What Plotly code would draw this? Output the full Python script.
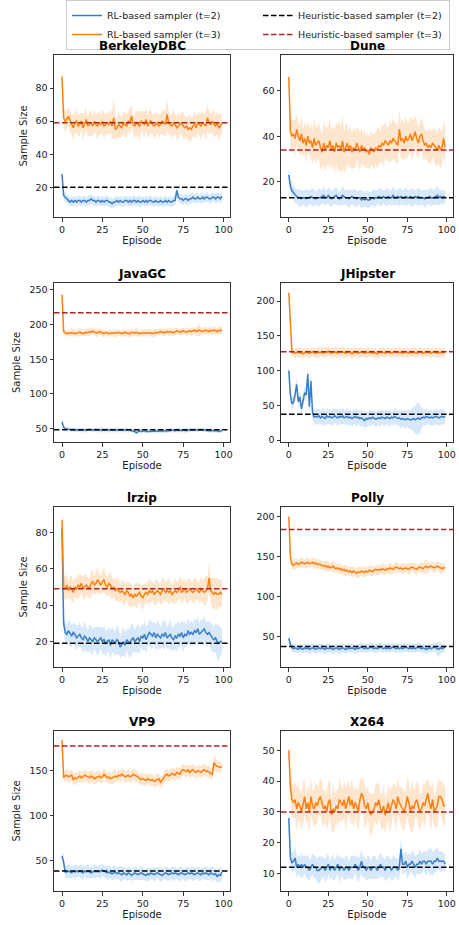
import plotly.graph_objects as go
from plotly.subplots import make_subplots

episodes = list(range(100))
panel_names = ["BerkeleyDBC", "Dune", "JavaGC", "JHipster", "lrzip", "Polly", "VP9", "X264"]
heuristic_t2 = [20, 13, 48.5, 37, 19, 37.5, 38, 12]
heuristic_t3 = [59, 34, 217, 127, 49, 184, 177.5, 30]

# ---------------- BerkeleyDBC ----------------
bdb_t2 = [28, 15, 14, 13, 12, 11, 12, 11, 12, 11,
          12, 12, 11, 12, 12, 11, 12, 12, 13, 12,
          12, 11, 12, 12, 11, 12, 11, 12, 12, 11,
          11, 10, 11, 11, 12, 11, 12, 11, 11, 12,
          12, 11, 12, 11, 12, 12, 11, 12, 11, 11,
          12, 11, 12, 11, 12, 12, 11, 11, 12, 11,
          11, 12, 11, 11, 12, 11, 12, 11, 11, 12,
          12, 18, 14, 13, 13, 12, 13, 13, 12, 13,
          13, 14, 13, 13, 14, 13, 13, 14, 13, 14,
          14, 13, 13, 14, 14, 13, 14, 14, 13, 14.5]
bdb_t2_hw = [3, 2, 3, 2.5, 3, 2.5, 3, 3, 2.5, 3,
             2.5, 3, 3, 2.5, 3, 3, 2.5, 3, 3, 2.5,
             3, 2.5, 3, 3, 2.5, 3, 2.5, 3, 3, 2.5,
             3, 3, 2.5, 3, 3, 2.5, 3, 2.5, 3, 3,
             2.5, 3, 3, 2.5, 3, 3, 2.5, 3, 3.5, 3,
             2.5, 3, 3, 2.5, 3, 3, 2.5, 3, 3, 2.5,
             3, 3, 2.5, 3, 3, 2.5, 3, 3, 2.5, 3,
             3, 4, 3, 2.5, 3, 3, 2.5, 3, 3, 2.5,
             3, 3, 2.5, 3, 3, 2.5, 3, 3, 2.5, 3,
             3, 2.5, 3, 3, 2.5, 3, 3, 2.5, 3, 3]
bdb_t3 = [87, 62, 60, 61, 63, 60, 58, 56, 59, 60,
          57, 58, 60, 56, 59, 61, 57, 58, 59, 57,
          60, 58, 57, 59, 58, 60, 57, 58, 59, 58,
          60, 57, 62, 55, 56, 58, 57, 56, 59, 58,
          57, 60, 59, 63, 58, 57, 59, 58, 57, 60,
          59, 58, 61, 57, 59, 60, 58, 57, 58, 59,
          57, 58, 60, 59, 58, 64, 59, 58, 57, 59,
          58, 56, 57, 58, 59, 57, 56, 57, 55, 56,
          55, 57, 58, 56, 59, 58, 57, 59, 58, 57,
          62, 59, 58, 60, 58, 57, 59, 56, 57, 59]
bdb_t3_hw = [7, 6, 7, 5, 6, 7, 6, 8, 6, 7,
             6, 7, 5, 8, 6, 7, 6, 7, 8, 6,
             7, 6, 8, 7, 6, 7, 8, 6, 7, 6,
             7, 8, 12, 7, 6, 8, 7, 6, 7, 8,
             7, 6, 8, 7, 6, 7, 8, 7, 9, 6,
             7, 8, 6, 7, 8, 7, 6, 8, 7, 6,
             7, 6, 8, 7, 8, 9, 7, 6, 7, 8,
             6, 7, 8, 6, 7, 8, 7, 6, 7, 8,
             7, 6, 8, 7, 6, 7, 8, 7, 6, 9,
             8, 7, 6, 7, 8, 6, 7, 8, 7, 6]

# ---------------- Dune ----------------
dune_t2 = [23, 18, 16, 15, 14, 13.5, 13, 13, 12.5, 13,
           13, 12.5, 13, 13, 13.5, 13, 13, 12.5, 13, 13,
           13, 13.5, 14, 13, 13, 14, 13, 12.5, 13, 13.5,
           14, 13, 12.5, 13, 14, 13.5, 13, 13, 12.5, 13,
           13.5, 13, 13, 12.5, 13, 13, 12, 12.5, 12, 12.5,
           12, 12, 12.5, 13, 12.5, 13, 13, 13.5, 13, 13,
           13.5, 13, 13, 13.5, 13, 13, 14, 13, 13, 13.5,
           13, 13.5, 13, 13, 13.5, 13, 13, 13.5, 13, 13,
           13.5, 13, 13.5, 13, 13, 13, 12.5, 13, 13, 13.5,
           13, 13, 13, 13.5, 14, 13, 13.5, 13, 13.5, 13]
dune_t2_hw = [3, 3, 3.5, 3, 3.5, 3, 3.5, 4, 3.5, 3,
              3.5, 4, 3.5, 3, 3.5, 4, 3.5, 3, 3.5, 4,
              3.5, 3, 4, 3.5, 3, 3.5, 4, 3.5, 3, 3.5,
              4, 3.5, 3, 3.5, 4, 3.5, 3, 3.5, 4, 3.5,
              3, 3.5, 4, 3.5, 3, 3.5, 4, 3.5, 3, 3.5,
              4, 3.5, 3, 3.5, 4, 3.5, 3, 3.5, 4, 3.5,
              3, 3.5, 4, 3.5, 3, 3.5, 4, 3.5, 3, 3.5,
              4, 3.5, 3, 3.5, 4, 3.5, 3, 3.5, 4, 3.5,
              3, 3.5, 4, 3.5, 3, 3.5, 4, 3.5, 3, 3.5,
              4, 3.5, 3, 3.5, 4, 3.5, 3, 3.5, 3, 3]
dune_t3 = [66, 42, 40, 41, 39, 43, 40, 38, 41, 37,
           39, 36, 40, 37, 38, 35, 39, 36, 37, 38,
           35, 33, 37, 34, 36, 35, 38, 34, 36, 33,
           37, 35, 36, 34, 38, 33, 35, 37, 34, 36,
           33, 35, 34, 37, 35, 33, 36, 34, 35, 33,
           34, 32, 35, 34, 33, 35, 34, 36, 35, 37,
           36, 38, 37, 36, 38, 37, 39, 38, 37, 36,
           43, 38, 39, 37, 40, 38, 39, 41, 38, 40,
           42, 39, 37, 40, 41, 38, 36, 37, 35, 36,
           35, 37, 36, 35, 34, 36, 34, 35, 39, 35]
dune_t3_hw = [5, 6, 7, 6, 8, 7, 6, 7, 8, 6,
              7, 8, 7, 6, 8, 7, 9, 8, 7, 8,
              9, 8, 9, 10, 8, 9, 10, 9, 8, 10,
              9, 10, 11, 10, 12, 9, 10, 9, 8, 9,
              8, 9, 8, 7, 8, 9, 8, 7, 8, 7,
              8, 7, 8, 7, 8, 7, 9, 8, 7, 8,
              9, 8, 7, 8, 9, 8, 9, 8, 9, 8,
              9, 8, 9, 8, 9, 8, 7, 8, 9, 8,
              7, 8, 7, 6, 7, 8, 7, 6, 7, 8,
              7, 6, 7, 8, 7, 8, 9, 7, 8, 9]

# ---------------- JavaGC ----------------
jgc_t2 = [60, 52, 50, 50, 49, 49, 48, 49, 48, 48,
          48, 47, 48, 48, 47, 48, 48, 49, 48, 48,
          48, 49, 48, 48, 49, 48, 48, 48, 49, 48,
          48, 48, 48, 48, 49, 48, 48, 48, 48, 48,
          48, 48, 48, 47, 47, 46, 44, 46, 47, 46,
          47, 47, 46, 46, 47, 46, 47, 46, 46, 47,
          46, 46, 46, 47, 46, 47, 47, 47, 48, 47,
          47, 48, 47, 48, 47, 48, 47, 47, 48, 48,
          48, 48, 49, 48, 48, 49, 49, 48, 48, 48,
          47, 47, 48, 47, 47, 47, 47, 46, 47, 47]
jgc_t2_hw = [3, 2, 3, 2.5, 3, 3, 2.5, 3, 3, 2.5,
             3, 2.5, 3, 3, 2.5, 3, 3, 2.5, 3, 3,
             2.5, 3, 3, 2.5, 3, 3, 2.5, 3, 3, 2.5,
             3, 3, 2.5, 3, 3, 2.5, 3, 3, 2.5, 3,
             3, 2.5, 3, 3, 2.5, 3, 3, 2.5, 3, 3,
             2.5, 3, 3, 2.5, 3, 3, 2.5, 3, 3, 2.5,
             3, 3, 2.5, 3, 3, 2.5, 3, 3, 2.5, 3,
             3, 2.5, 3, 3, 2.5, 3, 3, 2.5, 3, 3,
             2.5, 3, 3, 2.5, 3, 3, 2.5, 3, 3, 2.5,
             3, 3, 2.5, 3, 3, 2.5, 3, 3, 2.5, 3]
jgc_t3 = [243, 190, 188, 187, 188, 188, 189, 188, 187, 188,
          188, 189, 188, 187, 188, 189, 188, 190, 189, 191,
          189, 188, 188, 190, 189, 188, 187, 189, 188, 187,
          188, 188, 188, 187, 188, 189, 188, 187, 188, 189,
          188, 188, 187, 189, 188, 188, 189, 188, 187, 188,
          188, 189, 188, 188, 189, 188, 187, 188, 189, 188,
          189, 190, 189, 188, 189, 190, 189, 190, 189, 188,
          190, 191, 190, 189, 190, 191, 190, 189, 190, 191,
          190, 191, 192, 190, 191, 192, 191, 190, 191, 192,
          191, 190, 192, 191, 192, 191, 190, 192, 191, 193]
jgc_t3_hw = [6, 4, 4, 5, 4, 5, 6, 5, 4, 5,
             5, 6, 5, 4, 5, 6, 5, 6, 5, 4,
             5, 6, 5, 4, 5, 6, 5, 4, 5, 4,
             5, 4, 5, 6, 5, 4, 5, 4, 5, 5,
             4, 5, 6, 5, 4, 5, 6, 5, 4, 5,
             4, 5, 5, 6, 5, 4, 5, 6, 5, 4,
             5, 4, 5, 6, 5, 4, 5, 6, 5, 5,
             6, 5, 4, 5, 6, 5, 4, 5, 6, 5,
             7, 6, 5, 6, 7, 9, 5, 6, 5, 6,
             5, 6, 5, 6, 5, 6, 5, 6, 5, 6]

# ---------------- JHipster ----------------
jh_t2 = [100, 65, 52, 55, 66, 80, 55, 62, 45, 55,
         68, 65, 95, 48, 85, 40, 33, 34, 33, 35,
         32, 34, 33, 31, 35, 33, 34, 32, 33, 35,
         33, 32, 34, 33, 35, 32, 33, 34, 32, 33,
         31, 33, 34, 32, 33, 31, 32, 30, 28, 31,
         30, 32, 31, 33, 32, 30, 31, 32, 31, 33,
         32, 31, 33, 32, 31, 33, 32, 34, 33, 31,
         32, 30, 31, 30, 29, 31, 30, 29, 30, 31,
         29, 31, 32, 30, 31, 33, 32, 34, 33, 32,
         33, 32, 33, 34, 33, 32, 33, 34, 33, 33]
jh_t2_hw = [8, 10, 8, 9, 10, 12, 9, 10, 8, 9,
            10, 9, 12, 10, 12, 10, 11, 10, 12, 11,
            10, 12, 11, 10, 12, 11, 10, 11, 12, 10,
            11, 12, 10, 11, 12, 10, 11, 12, 10, 11,
            12, 10, 11, 12, 10, 11, 12, 10, 11, 12,
            10, 11, 12, 10, 11, 12, 10, 11, 12, 10,
            11, 12, 10, 11, 12, 10, 11, 12, 10, 11,
            12, 14, 11, 12, 13, 12, 14, 13, 15, 18,
            20, 22, 24, 20, 15, 12, 11, 12, 10, 11,
            12, 10, 11, 12, 10, 11, 12, 11, 10, 11]
jh_t3 = [212, 170, 126, 126, 125, 126, 127, 125, 126, 124,
         126, 127, 126, 125, 126, 127, 126, 125, 126, 126,
         127, 126, 125, 127, 126, 128, 126, 125, 126, 127,
         126, 125, 127, 126, 127, 126, 125, 126, 127, 126,
         124, 126, 127, 126, 125, 126, 127, 126, 125, 126,
         126, 127, 126, 125, 126, 125, 124, 126, 126, 127,
         126, 125, 126, 127, 126, 125, 126, 127, 126, 126,
         127, 126, 125, 126, 127, 126, 125, 126, 126, 127,
         126, 125, 126, 127, 126, 125, 126, 126, 127, 126,
         125, 126, 127, 126, 125, 126, 126, 125, 126, 126]
jh_t3_hw = [6, 8, 7, 6, 7, 6, 7, 8, 6, 7,
            6, 7, 6, 8, 7, 6, 7, 6, 7, 8,
            6, 7, 6, 7, 8, 7, 6, 7, 6, 7,
            8, 6, 7, 6, 7, 8, 6, 7, 6, 7,
            8, 6, 7, 6, 7, 8, 6, 7, 6, 7,
            8, 6, 7, 6, 7, 8, 6, 7, 6, 7,
            8, 6, 7, 6, 7, 8, 6, 7, 6, 7,
            8, 6, 7, 6, 7, 8, 6, 7, 6, 7,
            8, 6, 7, 6, 7, 8, 6, 7, 6, 7,
            8, 6, 7, 6, 7, 8, 6, 7, 6, 7]

# ---------------- lrzip ----------------
lz_t2 = [82, 30, 25, 24, 26, 24, 23, 25, 24, 22,
         23, 24, 22, 21, 23, 22, 20, 22, 21, 20,
         22, 21, 20, 21, 22, 20, 21, 19, 20, 21,
         18, 21, 20, 19, 21, 20, 17, 19, 20, 18,
         21, 20, 19, 21, 22, 20, 21, 22, 20, 23,
         22, 24, 21, 23, 25, 24, 23, 25, 22, 24,
         23, 22, 24, 23, 25, 22, 23, 24, 22, 21,
         23, 22, 24, 23, 25, 22, 24, 23, 26, 24,
         25, 24, 26, 25, 27, 24, 25, 26, 27, 25,
         24, 25, 23, 22, 21, 22, 20, 19, 20, 20]
lz_t2_hw = [6, 5, 6, 5, 6, 7, 6, 5, 6, 7,
            6, 7, 6, 7, 8, 7, 6, 7, 8, 7,
            6, 7, 8, 7, 6, 7, 8, 7, 6, 7,
            8, 7, 6, 7, 8, 7, 6, 7, 8, 7,
            6, 7, 8, 9, 7, 6, 7, 8, 7, 6,
            7, 8, 7, 6, 7, 8, 7, 6, 7, 8,
            7, 6, 7, 8, 7, 6, 7, 8, 7, 6,
            7, 8, 7, 6, 7, 8, 7, 6, 7, 6,
            7, 6, 7, 6, 7, 6, 7, 6, 7, 6,
            7, 6, 7, 8, 7, 8, 9, 10, 8, 7]
lz_t3 = [87, 50, 49, 51, 48, 50, 49, 47, 50, 49,
         51, 50, 52, 49, 50, 51, 50, 49, 52, 53,
         51, 52, 54, 52, 51, 53, 54, 51, 50, 52,
         51, 49, 50, 48, 49, 48, 47, 48, 47, 46,
         48, 47, 45, 46, 44, 46, 45, 46, 47, 45,
         44, 46, 47, 46, 48, 47, 48, 46, 47, 48,
         47, 46, 48, 49, 47, 48, 47, 48, 46, 47,
         48, 47, 48, 50, 47, 48, 49, 47, 48, 49,
         48, 47, 48, 49, 48, 47, 49, 48, 47, 48,
         49, 55, 48, 47, 46, 47, 46, 46, 47, 46]
lz_t3_hw = [4, 6, 7, 6, 5, 6, 7, 6, 5, 6,
            7, 6, 5, 6, 7, 6, 5, 6, 7, 6,
            5, 6, 7, 6, 5, 6, 7, 6, 5, 6,
            7, 6, 5, 6, 7, 6, 5, 6, 7, 6,
            5, 6, 7, 6, 5, 6, 7, 6, 5, 6,
            7, 6, 5, 6, 7, 6, 5, 6, 7, 6,
            5, 6, 7, 6, 5, 6, 7, 6, 5, 6,
            7, 6, 5, 6, 7, 6, 5, 6, 7, 6,
            5, 6, 7, 6, 5, 6, 7, 6, 7, 8,
            7, 8, 7, 8, 9, 8, 9, 8, 7, 8]

# ---------------- Polly ----------------
po_t2 = [48, 40, 36, 35, 36, 35, 34, 36, 35, 34,
         36, 35, 36, 34, 35, 36, 35, 34, 35, 36,
         35, 36, 35, 34, 36, 35, 36, 35, 34, 35,
         36, 35, 34, 35, 36, 35, 34, 35, 36, 35,
         36, 35, 34, 36, 35, 36, 37, 36, 35, 36,
         35, 36, 37, 36, 35, 36, 35, 36, 37, 36,
         35, 36, 35, 36, 35, 36, 37, 36, 35, 36,
         35, 36, 35, 36, 37, 36, 35, 36, 35, 36,
         35, 36, 37, 36, 35, 36, 35, 34, 35, 36,
         35, 36, 37, 36, 35, 34, 36, 35, 36, 37]
po_t2_hw = [4, 5, 6, 5, 6, 5, 6, 5, 6, 5,
            6, 5, 6, 5, 6, 5, 6, 5, 6, 5,
            6, 5, 6, 5, 6, 5, 6, 5, 6, 5,
            6, 5, 6, 5, 6, 5, 6, 5, 6, 5,
            6, 5, 6, 5, 6, 5, 7, 6, 5, 6,
            5, 6, 5, 6, 5, 6, 5, 6, 5, 6,
            5, 6, 5, 6, 5, 6, 5, 6, 5, 6,
            5, 6, 5, 6, 5, 6, 5, 6, 5, 6,
            5, 6, 5, 6, 5, 6, 5, 6, 5, 6,
            5, 6, 5, 6, 8, 10, 7, 6, 5, 6]
po_t3 = [200, 150, 140, 139, 141, 142, 140, 141, 143, 142,
         141, 142, 143, 141, 142, 143, 141, 142, 140, 141,
         140, 139, 138, 139, 137, 138, 136, 137, 138, 136,
         135, 136, 134, 135, 133, 134, 132, 133, 131, 132,
         130, 132, 131, 129, 131, 130, 132, 131, 130, 132,
         131, 133, 132, 131, 133, 134, 133, 134, 133, 135,
         134, 133, 135, 134, 136, 135, 134, 136, 137, 136,
         135, 136, 134, 135, 136, 135, 134, 136, 137, 136,
         135, 134, 136, 137, 136, 135, 137, 138, 136, 137,
         138, 137, 136, 137, 138, 137, 136, 135, 136, 136]
po_t3_hw = [5, 6, 5, 6, 7, 6, 5, 6, 7, 6,
            5, 6, 7, 6, 5, 6, 7, 6, 5, 6,
            7, 6, 5, 6, 7, 6, 5, 6, 7, 6,
            5, 6, 7, 6, 5, 6, 7, 6, 5, 6,
            7, 6, 5, 6, 7, 6, 5, 6, 7, 6,
            5, 6, 7, 6, 5, 6, 7, 6, 5, 6,
            7, 6, 5, 6, 7, 6, 5, 6, 7, 6,
            5, 6, 7, 6, 5, 6, 7, 6, 5, 6,
            7, 6, 5, 6, 7, 6, 8, 10, 7, 6,
            5, 6, 7, 6, 5, 6, 7, 6, 5, 6]

# ---------------- VP9 ----------------
vp_t2 = [55, 48, 37, 37, 38, 37, 36, 38, 37, 38,
         37, 38, 37, 36, 38, 37, 38, 37, 36, 37,
         38, 37, 38, 37, 38, 39, 38, 37, 36, 37,
         36, 35, 36, 37, 35, 36, 35, 34, 36, 35,
         34, 36, 35, 33, 35, 36, 35, 34, 35, 36,
         35, 34, 33, 35, 34, 36, 35, 34, 35, 36,
         35, 34, 33, 35, 36, 35, 34, 35, 36, 35,
         36, 35, 34, 35, 36, 35, 34, 35, 36, 35,
         36, 35, 34, 35, 36, 35, 34, 36, 35, 36,
         35, 34, 36, 35, 34, 35, 32, 34, 33, 37]
vp_t2_hw = [5, 7, 6, 7, 8, 7, 6, 7, 8, 7,
            6, 7, 8, 7, 6, 7, 8, 7, 6, 7,
            8, 7, 6, 7, 8, 7, 6, 7, 8, 7,
            6, 7, 8, 7, 6, 7, 8, 9, 7, 6,
            7, 8, 7, 6, 7, 8, 7, 6, 7, 8,
            7, 6, 7, 8, 7, 6, 7, 8, 7, 6,
            7, 8, 7, 6, 7, 8, 7, 6, 7, 8,
            7, 6, 7, 8, 7, 6, 7, 8, 7, 6,
            7, 8, 7, 6, 7, 8, 7, 6, 7, 8,
            7, 6, 7, 8, 7, 6, 7, 8, 7, 6]
vp_t3 = [184, 143, 144, 145, 143, 144, 145, 140, 142, 141,
         143, 144, 142, 143, 145, 144, 143, 142, 144, 143,
         141, 142, 143, 144, 142, 143, 146, 144, 142, 143,
         141, 142, 143, 144, 143, 145, 144, 146, 145, 143,
         144, 145, 143, 144, 146, 145, 144, 143, 141, 140,
         141, 140, 139, 141, 140, 139, 140, 138, 139, 140,
         141, 137, 139, 142, 145, 146, 144, 145, 147, 146,
         145, 148, 147, 146, 150, 151, 150, 149, 151, 148,
         150, 151, 149, 148, 150, 149, 148, 150, 151, 149,
         150, 148, 147, 146, 159, 156, 155, 154, 154, 154]
vp_t3_hw = [5, 7, 6, 7, 6, 7, 6, 7, 6, 7,
            6, 7, 6, 7, 6, 7, 6, 7, 6, 7,
            6, 7, 6, 7, 6, 7, 6, 7, 6, 7,
            6, 7, 8, 7, 6, 7, 6, 7, 6, 7,
            6, 7, 6, 7, 6, 7, 6, 7, 6, 7,
            6, 7, 6, 7, 6, 7, 6, 7, 6, 7,
            6, 7, 6, 7, 6, 7, 6, 7, 6, 7,
            6, 7, 6, 7, 6, 7, 6, 7, 6, 7,
            6, 7, 6, 7, 6, 7, 6, 7, 6, 7,
            6, 7, 6, 7, 9, 8, 7, 6, 6, 6]

# ---------------- X264 ----------------
x264_t2 = [28, 15, 13.5, 14, 15, 12, 13, 12, 13, 12,
           13, 12, 12, 11, 12, 13, 12, 12, 11, 11,
           11.5, 12, 12, 11, 12, 13, 11, 12, 12, 11,
           12, 13, 11, 12, 12, 11, 12, 12, 11, 12,
           12, 12, 13, 12, 11, 12, 14, 12, 12, 11,
           12, 12, 11, 12, 12, 12, 11, 12, 13, 12,
           12, 11, 12, 12, 12, 11, 12, 12, 12, 11,
           12, 18, 13, 13, 14, 12, 13, 13, 14, 13,
           12, 13, 13, 14, 13, 14, 14, 13, 14, 14,
           14, 13, 14, 14, 15, 14, 14, 14, 14, 13]
x264_t2_hw = [2.5, 3, 3.5, 3, 4, 3.5, 3, 3.5, 4, 3.5,
              3, 3.5, 4, 3.5, 3, 3.5, 4, 3.5, 4, 4.5,
              4, 3.5, 3, 3.5, 4, 3.5, 3, 3.5, 4, 3.5,
              3, 3.5, 4, 3.5, 3, 3.5, 4, 3.5, 3, 3.5,
              4, 3.5, 3, 3.5, 4, 3.5, 4, 3.5, 3, 3.5,
              4, 3.5, 3, 3.5, 4, 3.5, 3, 3.5, 4, 3.5,
              3, 3.5, 4, 3.5, 3, 3.5, 4, 3.5, 3, 3.5,
              4, 3, 3.5, 3, 3.5, 4, 3.5, 3, 3.5, 4,
              3.5, 3, 3.5, 4, 3.5, 3, 3.5, 4, 3.5, 4,
              4.5, 4, 3.5, 4, 3.5, 3, 3.5, 3, 3, 3]
x264_t3 = [50, 38, 34, 33, 34, 31, 33, 32, 30, 33,
           35, 31, 33, 30, 35, 32, 31, 33, 32, 34,
           35, 33, 31, 32, 30, 33, 34, 29, 31, 30,
           32, 31, 34, 33, 32, 34, 31, 33, 35, 32,
           34, 31, 33, 32, 30, 34, 36, 35, 32, 31,
           33, 30, 29, 30, 31, 33, 32, 34, 31, 30,
           32, 29, 31, 33, 30, 32, 34, 33, 31, 35,
           33, 32, 31, 30, 32, 35, 33, 30, 32, 31,
           33, 34, 32, 30, 31, 33, 32, 34, 36, 33,
           31, 34, 30, 31, 32, 35, 35, 34, 32, 32]
x264_t3_hw = [4, 5, 6, 5, 6, 7, 6, 5, 6, 7,
              6, 5, 6, 7, 6, 5, 6, 7, 6, 5,
              6, 7, 6, 5, 6, 7, 6, 5, 8, 6,
              5, 6, 7, 6, 5, 6, 7, 6, 5, 6,
              7, 6, 5, 6, 7, 6, 5, 6, 7, 6,
              5, 6, 7, 6, 5, 6, 7, 6, 5, 6,
              7, 6, 5, 6, 7, 6, 5, 6, 7, 6,
              5, 6, 7, 6, 5, 6, 7, 6, 9, 6,
              5, 6, 7, 6, 5, 6, 7, 6, 5, 6,
              7, 6, 5, 6, 7, 6, 5, 6, 7, 6]

series_t2 = [bdb_t2, dune_t2, jgc_t2, jh_t2, lz_t2, po_t2, vp_t2, x264_t2]
series_t2_hw = [bdb_t2_hw, dune_t2_hw, jgc_t2_hw, jh_t2_hw, lz_t2_hw, po_t2_hw, vp_t2_hw, x264_t2_hw]
series_t3 = [bdb_t3, dune_t3, jgc_t3, jh_t3, lz_t3, po_t3, vp_t3, x264_t3]
series_t3_hw = [bdb_t3_hw, dune_t3_hw, jgc_t3_hw, jh_t3_hw, lz_t3_hw, po_t3_hw, vp_t3_hw, x264_t3_hw]

for nm, arrs in zip(panel_names, zip(series_t2, series_t2_hw, series_t3, series_t3_hw)):
    for a in arrs:
        assert len(a) == 100, (nm, len(a))

# ---------------- styling ----------------
W, H = 459, 925
FONT = "DejaVu Sans"
TXT = "#1a1a1a"
BLUE = "#3b7dc4"
BLUE_BAND = "rgba(120,180,235,0.30)"
ORANGE = "#ff7f0e"
ORANGE_BAND = "rgba(253,165,80,0.28)"
H3_COLOR = "#b22222"

y_ranges = [[2, 100], [4.5, 75.7], [30.8, 260], [-2.8, 226],
            [6, 94], [12, 212], [15.8, 194.2], [4.3, 56.3]]
y_ticks = [[20, 40, 60, 80], [20, 40, 60], [50, 100, 150, 200, 250], [0, 50, 100, 150, 200],
           [20, 40, 60, 80], [50, 100, 150, 200], [50, 100, 150], [10, 20, 30, 40, 50]]

col_px = [(54, 230), (281, 453)]
row_px = [(55, 217), (283, 442), (507, 667), (731, 891)]

fig = make_subplots(rows=4, cols=2)


def band(m, hw, sign):
    return [v + sign * h for v, h in zip(m, hw)]


for i in range(8):
    r, c = i // 2 + 1, i % 2 + 1
    first = i == 0
    for mean, hw, col, bandcol, name, rank in [
        (series_t2[i], series_t2_hw[i], BLUE, BLUE_BAND, "RL-based sampler (t=2)", 1),
        (series_t3[i], series_t3_hw[i], ORANGE, ORANGE_BAND, "RL-based sampler (t=3)", 3),
    ]:
        fig.add_trace(go.Scatter(x=episodes, y=band(mean, hw, 1), mode="lines",
                                 line=dict(width=0, color=col), showlegend=False, hoverinfo="skip"),
                      row=r, col=c)
        fig.add_trace(go.Scatter(x=episodes, y=band(mean, hw, -1), mode="lines",
                                 line=dict(width=0, color=col), fill="tonexty", fillcolor=bandcol,
                                 showlegend=False, hoverinfo="skip"),
                      row=r, col=c)
        fig.add_trace(go.Scatter(x=episodes, y=mean, mode="lines", name=name,
                                 line=dict(color=col, width=1.5), showlegend=first,
                                 legendrank=rank),
                      row=r, col=c)
    fig.add_hline(y=heuristic_t2[i], row=r, col=c,
                  line=dict(color="black", width=1.5, dash="5.5px,2.5px"))
    fig.add_hline(y=heuristic_t3[i], row=r, col=c,
                  line=dict(color=H3_COLOR, width=1.5, dash="5.5px,2.5px"))

# legend-only entries for heuristic lines
fig.add_trace(go.Scatter(x=[None], y=[None], mode="lines", name="Heuristic-based sampler (t=2)",
                         line=dict(color="black", width=1.5, dash="5.5px,2.5px"), legendrank=2),
              row=1, col=1)
fig.add_trace(go.Scatter(x=[None], y=[None], mode="lines", name="Heuristic-based sampler (t=3)",
                         line=dict(color=H3_COLOR, width=1.5, dash="5.5px,2.5px"), legendrank=4),
              row=1, col=1)

annotations = []
for i in range(8):
    r, c = i // 2, i % 2
    x0, x1 = col_px[c]
    y0, y1 = row_px[r]
    ax = "" if i == 0 else str(i + 1)
    fig.layout["xaxis" + ax].update(
        domain=[x0 / W, x1 / W], range=[-4.95, 103.95], tickvals=[0, 25, 50, 75, 100],
        showline=True, mirror=True, linecolor="#333", linewidth=1, ticks="outside", ticklen=3.5,
        tickcolor="#333", showgrid=False, zeroline=False,
        tickfont=dict(family=FONT, size=9.5, color=TXT),
        title=dict(text="Episode", font=dict(family=FONT, size=10, color=TXT), standoff=3))
    fig.layout["yaxis" + ax].update(
        domain=[1 - y1 / H, 1 - y0 / H], range=y_ranges[i], tickvals=y_ticks[i],
        showline=True, mirror=True, linecolor="#333", linewidth=1, ticks="outside", ticklen=3.5,
        tickcolor="#333", showgrid=False, zeroline=False,
        tickfont=dict(family=FONT, size=9.5, color=TXT),
        title=dict(text="Sample Size" if c == 0 else "", font=dict(family=FONT, size=10, color=TXT),
                   standoff=6))
    annotations.append(dict(text="<b>" + panel_names[i] + "</b>", x=(x0 + x1) / 2 / W,
                            y=1 - y0 / H, xref="paper", yref="paper", xanchor="center",
                            yanchor="bottom", showarrow=False,
                            font=dict(family=FONT, size=12, color="black")))

fig.update_layout(
    width=W, height=H, margin=dict(l=0, r=0, t=0, b=0, autoexpand=False),
    plot_bgcolor="white", paper_bgcolor="white",
    font=dict(family=FONT, size=10, color=TXT),
    annotations=annotations,
    legend=dict(orientation="h", x=66 / W, y=1, xanchor="left", yanchor="top",
                entrywidth=146, entrywidthmode="pixels", itemwidth=30,
                bordercolor="#cccccc", borderwidth=1, bgcolor="white",
                font=dict(family=FONT, size=9.5, color=TXT), tracegroupgap=0,
                traceorder="normal"),
)

fig.write_html("out.html", config={"displayModeBar": False},
               post_script="document.body.style.margin='0';document.body.style.overflow='hidden';")
